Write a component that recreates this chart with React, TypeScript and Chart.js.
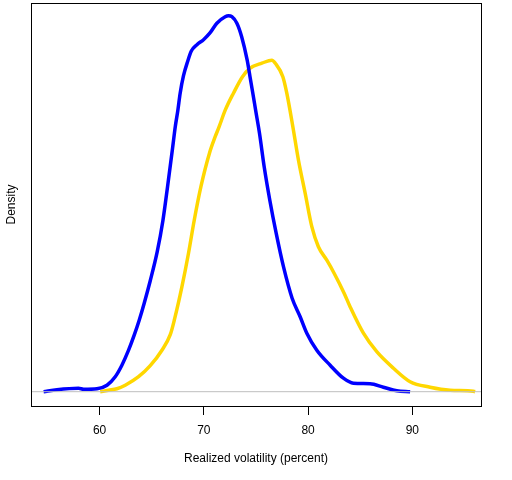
import { Chart, registerables } from "chart.js"
import { useEffect, useRef } from "react"

Chart.register(...registerables)

// realized volatility (percent) vs density
const blueX = [54.63, 55.91, 57.98, 58.46, 59.75, 60.71, 61.5, 62.14, 62.78, 63.32, 63.8, 64.28, 64.86, 65.53, 66.08, 66.52, 67.0, 67.26, 67.51, 67.73, 68.05, 68.47, 68.79, 69.34, 69.97, 70.61, 71.25, 72.05, 72.37, 72.69, 73.17, 73.63, 74.16, 74.43, 74.7, 74.97, 75.34, 75.79, 76.33, 76.94, 77.64, 78.47, 79.24, 79.88, 80.84, 82.12, 83.39, 84.35, 85.95, 87.23, 88.51, 89.79]
const blueY = [0, 0.0004, 0.0007, 0.0005, 0.0006, 0.0013, 0.003, 0.0053, 0.0083, 0.0113, 0.0143, 0.0177, 0.0222, 0.028, 0.0343, 0.041, 0.0487, 0.053, 0.0563, 0.0597, 0.0632, 0.0662, 0.0681, 0.0694, 0.0704, 0.0718, 0.0737, 0.075, 0.0752, 0.075, 0.0737, 0.071, 0.0663, 0.063, 0.0597, 0.0563, 0.0517, 0.045, 0.0383, 0.0317, 0.025, 0.0187, 0.015, 0.0117, 0.0083, 0.0053, 0.0027, 0.0017, 0.0016, 0.0009, 0.0002, 0]

const goldX = [60.06, 60.86, 61.66, 62.46, 63.74, 64.86, 65.98, 66.78, 67.19, 67.9, 68.53, 69.08, 69.72, 70.54, 71.09, 71.47, 72.05, 72.84, 73.71, 74.45, 75.57, 76.53, 76.85, 77.58, 77.96, 78.54, 79.08, 79.72, 80.36, 80.99, 81.8, 82.5, 83.46, 84.03, 85.31, 86.59, 88.19, 89.79, 91.71, 93.63, 95.86, 96.02]
const goldY = [0, 0.0003, 0.0006, 0.0013, 0.003, 0.0052, 0.0083, 0.0114, 0.0145, 0.021, 0.0277, 0.0343, 0.041, 0.0477, 0.051, 0.053, 0.0563, 0.0597, 0.063, 0.0647, 0.0657, 0.0663, 0.0657, 0.063, 0.0597, 0.053, 0.0463, 0.0397, 0.033, 0.029, 0.0263, 0.0237, 0.0197, 0.017, 0.0117, 0.008, 0.0047, 0.002, 0.0009, 0.0003, 0.0001, 0]

const xTicks = [60, 70, 80, 90]
const xMin = 53.42
const xMax = 96.59
const yMin = -0.00286
const yMax = 0.07774

const toPoints = (xs: number[], ys: number[]) => xs.map((x, i) => ({ x, y: ys[i] }))

const FONT = { family: "'Liberation Sans', Arial, sans-serif", size: 12 }

// draws the full frame round the plot, like R's box()
const boxPlugin = {
    id: "box",
    afterDraw(chart: any) {
        const { ctx, chartArea } = chart
        ctx.save()
        ctx.strokeStyle = "#000"
        ctx.lineWidth = 1
        ctx.strokeRect(chartArea.left + 0.5, chartArea.top + 0.5, chartArea.right - chartArea.left, chartArea.bottom - chartArea.top)
        ctx.restore()
    },
}

const App = () => {
    const canvasRef = useRef<HTMLCanvasElement>(null)

    useEffect(() => {
        if (!canvasRef.current) return
        const chart = new Chart(canvasRef.current, {
            type: "line",
            data: {
                datasets: [
                    {
                        data: [{ x: xMin, y: 0 }, { x: xMax, y: 0 }],
                        borderColor: "#bebebe",
                        borderWidth: 1,
                        pointRadius: 0,
                    },
                    {
                        data: toPoints(blueX, blueY),
                        borderColor: "#0000ff",
                        borderWidth: 3.5,
                        pointRadius: 0,
                        cubicInterpolationMode: "monotone",
                    },
                    {
                        data: toPoints(goldX, goldY),
                        borderColor: "#ffd700",
                        borderWidth: 3.5,
                        pointRadius: 0,
                        cubicInterpolationMode: "monotone",
                    },
                ],
            },
            options: {
                animation: false,
                responsive: true,
                maintainAspectRatio: false,
                layout: { padding: { top: 3, right: 31, left: 0, bottom: 0 } },
                plugins: { legend: { display: false }, tooltip: { enabled: false } },
                scales: {
                    x: {
                        type: "linear",
                        min: xMin,
                        max: xMax,
                        afterBuildTicks: (scale: any) => {
                            scale.ticks = xTicks.map((v) => ({ value: v }))
                        },
                        afterFit: (scale: any) => {
                            scale.height = 74
                        },
                        grid: { drawOnChartArea: false, drawTicks: true, tickLength: 9, color: "#000" },
                        border: { display: true, color: "#000" },
                        ticks: { color: "#000", font: FONT, padding: 8, maxRotation: 0 },
                        title: {
                            display: true,
                            text: "Realized volatility (percent)",
                            color: "#000",
                            font: FONT,
                            padding: { top: 4, bottom: 14 },
                        },
                    },
                    y: {
                        type: "linear",
                        min: yMin,
                        max: yMax,
                        afterFit: (scale: any) => {
                            scale.width = 31
                        },
                        grid: { display: false },
                        border: { display: true, color: "#000" },
                        ticks: { display: false },
                        title: { display: true, text: "Density", color: "#000", font: FONT, padding: 4 },
                    },
                },
            },
            plugins: [boxPlugin],
        })
        return () => {
            chart.destroy()
        }
    }, [])

    return (
        <div style={{ position: "fixed", left: 0, top: 0, width: 512, height: 480, background: "#fff" }}>
            <canvas ref={canvasRef}></canvas>
        </div>
    )
}

export default App
